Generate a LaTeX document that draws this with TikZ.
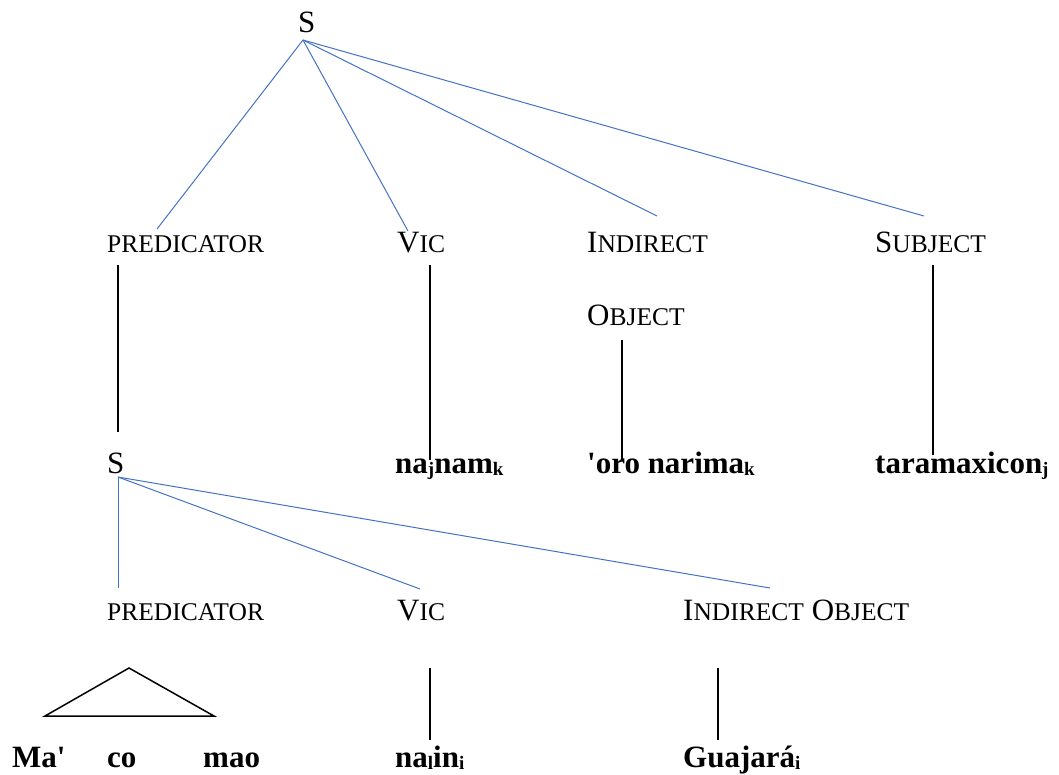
\documentclass[tikz,border=0pt]{standalone}
\usepackage{fontspec}
\setmainfont{Liberation Serif}
\newcommand\fsc[2]{#1{\fontsize{25.5}{30}\selectfont #2}}
\newcommand\sbs[1]{\raisebox{-2.5pt}{\fontsize{19}{22}\selectfont #1}}
\begin{document}
\begin{tikzpicture}[x=1pt,y=-1pt,
  lab/.style={anchor=base west,inner sep=0pt,font=\fontsize{31}{37}\selectfont},
  word/.style={lab,font=\fontsize{31}{37}\selectfont\bfseries},
  blue edge/.style={draw=bl,line width=1pt},
  black edge/.style={draw=black,line width=1.5pt}]
\definecolor{bl}{RGB}{68,114,196}
\useasboundingbox (0,0) rectangle (1059,774);
% labels
\node[lab] (s1) at (298,32) {S};
\node[lab] (p1) at (107,252) {\fsc{}{PREDICATOR}};
\node[lab] (v1) at (397,252) {\fsc{V}{IC}};
\node[lab] (io1) at (587,252) {\fsc{I}{NDIRECT}};
\node[lab] (ob1) at (587,325) {\fsc{O}{BJECT}};
\node[lab] (su1) at (875,252) {\fsc{S}{UBJECT}};
\node[lab] (s2) at (107,473) {S};
\node[word] (w1) at (395,473) {na\sbs{j}nam\sbs{k}};
\node[word] (w2) at (587,473) {\textquotesingle oro narima\sbs{k}};
\node[word] (w3) at (875,473) {taramaxicon\sbs{j}};
\node[lab] (p2) at (107,620) {\fsc{}{PREDICATOR}};
\node[lab] (v2) at (397,620) {\fsc{V}{IC}};
\node[lab] (io2) at (683,620) {\fsc{I}{NDIRECT} \fsc{O}{BJECT}};
\node[word] (m1) at (12,767) {Ma\textquotesingle};
\node[word] (m2) at (107,767) {co};
\node[word] (m3) at (203,767) {mao};
\node[word] (w4) at (395,767) {na\sbs{l}in\sbs{i}};
\node[word] (w5) at (683,767) {Guajará\sbs{i}};
% connector end points
\coordinate (s1o) at (303,40);
\coordinate (p1t) at (157,229);
\coordinate (v1t) at (408,231);
\coordinate (io1t) at (657,216);
\coordinate (su1t) at (924,216);
\coordinate (s2o) at (118,477);
\coordinate (p2t) at (118,588);
\coordinate (v2t) at (420,589);
\coordinate (io2t) at (770,588);
\coordinate (a1) at (118,265); \coordinate (b1) at (118,432);
\coordinate (a2) at (430,265); \coordinate (b2) at (430,460);
\coordinate (a3) at (622,340); \coordinate (b3) at (622,460);
\coordinate (a4) at (933,265); \coordinate (b4) at (933,455);
\coordinate (a5) at (430,668); \coordinate (b5) at (430,740);
\coordinate (a6) at (718,668); \coordinate (b6) at (718,740);
\coordinate (t1) at (129,668); \coordinate (t2) at (45,716); \coordinate (t3) at (214,716);
% blue connectors
\draw[blue edge] (s1o) -- (p1t);
\draw[blue edge] (s1o) -- (v1t);
\draw[blue edge] (s1o) -- (io1t);
\draw[blue edge] (s1o) -- (su1t);
\draw[blue edge] (s2o) -- (p2t);
\draw[blue edge] (s2o) -- (v2t);
\draw[blue edge] (s2o) -- (io2t);
% black connectors
\draw[black edge] (a1) -- (b1);
\draw[black edge] (a2) -- (b2);
\draw[black edge] (a3) -- (b3);
\draw[black edge] (a4) -- (b4);
\draw[black edge] (a5) -- (b5);
\draw[black edge] (a6) -- (b6);
\draw[black edge,line join=miter] (t1) -- (t2) -- (t3) -- cycle;
\end{tikzpicture}
\end{document}
